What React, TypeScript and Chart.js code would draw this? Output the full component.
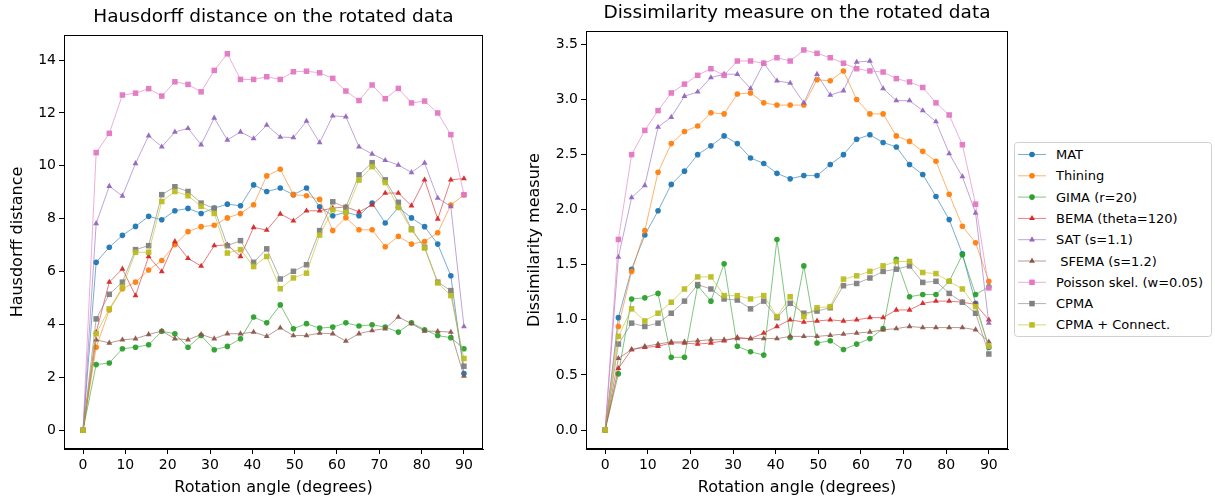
import React, { useEffect, useRef } from "react";
import { Chart, registerables } from "chart.js";

Chart.register(...registerables);

// ---------- data ----------
const angles = [0, 3.1, 6.2, 9.3, 12.4, 15.5, 18.6, 21.7, 24.8, 27.9, 31.0, 34.1, 37.2, 40.3, 43.4, 46.6, 49.7, 52.8, 55.9, 59.0, 62.1, 65.2, 68.3, 71.4, 74.5, 77.6, 80.7, 83.8, 86.9, 90.0];

const seriesNames = ["MAT", "Thining", "GIMA (r=20)", "BEMA (theta=120)", "SAT (s=1.1)", " SFEMA (s=1.2)", "Poisson skel. (w=0.05)", "CPMA", "CPMA + Connect."];
const seriesColors = ["#1f77b4", "#ff7f0e", "#2ca02c", "#d62728", "#9467bd", "#8c564b", "#e377c2", "#7f7f7f", "#bcbd22"];
const seriesMarkers = ["circle", "circle", "circle", "triangle", "triangle", "triangle", "rect", "rect", "rect"];

// Hausdorff distance
const hausMAT = [0, 6.35, 6.92, 7.37, 7.71, 8.09, 7.96, 8.30, 8.39, 8.20, 8.40, 8.55, 8.49, 9.28, 9.03, 9.16, 8.91, 9.16, 8.45, 8.11, 8.25, 8.11, 8.59, 7.84, 8.43, 8.03, 7.70, 7.04, 5.84, 2.14];
const hausThining = [0, 3.14, 4.55, 5.35, 5.60, 6.06, 6.42, 7.02, 7.51, 7.70, 7.75, 8.03, 8.20, 8.53, 9.62, 9.87, 8.91, 8.87, 8.73, 7.55, 8.04, 7.58, 7.58, 6.94, 7.33, 7.04, 7.14, 7.47, 8.52, 8.90];
const hausGIMA = [0, 2.48, 2.54, 3.08, 3.14, 3.23, 3.74, 3.65, 3.14, 3.58, 3.04, 3.17, 3.46, 4.28, 4.06, 4.74, 3.84, 4.03, 3.86, 3.90, 4.06, 3.94, 3.99, 3.90, 3.71, 4.06, 3.80, 3.58, 3.50, 3.08];
const hausBEMA = [0, 3.70, 5.60, 6.10, 5.09, 6.57, 6.00, 7.14, 6.50, 6.21, 6.98, 7.01, 6.57, 7.67, 7.57, 8.18, 7.92, 8.30, 8.30, 8.40, 8.45, 8.26, 8.52, 8.97, 8.97, 8.49, 9.47, 7.99, 9.47, 9.52];
const hausSAT = [0, 7.82, 9.23, 8.86, 10.09, 11.14, 10.72, 11.28, 11.42, 10.80, 11.81, 10.98, 11.28, 11.03, 11.54, 11.09, 11.07, 11.69, 10.88, 11.89, 11.86, 10.72, 10.45, 10.21, 10.03, 9.75, 10.11, 8.78, 8.46, 3.92];
const hausSFEMA = [0, 3.42, 3.30, 3.42, 3.46, 3.62, 3.75, 3.46, 3.42, 3.62, 3.46, 3.65, 3.65, 3.71, 3.55, 3.87, 3.58, 3.58, 3.67, 3.65, 3.37, 3.65, 3.77, 3.84, 4.28, 4.03, 3.75, 3.74, 3.71, 2.05];
const hausPoisson = [0, 10.50, 11.23, 12.68, 12.75, 12.92, 12.64, 13.18, 13.08, 12.80, 13.61, 14.24, 13.27, 13.27, 13.37, 13.27, 13.56, 13.58, 13.52, 13.31, 12.83, 12.47, 13.06, 12.54, 12.93, 12.38, 12.45, 12.00, 11.18, 8.91];
const hausCPMA = [0, 4.21, 5.14, 5.60, 6.83, 6.98, 8.91, 9.21, 9.03, 8.59, 8.39, 6.98, 7.17, 6.35, 6.86, 5.72, 6.01, 6.26, 7.55, 8.64, 8.43, 9.66, 10.12, 9.47, 8.62, 7.61, 6.92, 5.60, 5.28, 2.42];
const hausCPMAConnect = [0, 3.65, 4.59, 5.40, 6.73, 6.73, 8.65, 9.03, 8.87, 8.47, 8.20, 6.70, 6.83, 6.19, 6.57, 5.35, 5.76, 5.94, 7.38, 8.34, 8.24, 9.46, 9.97, 9.37, 8.43, 7.58, 6.89, 5.57, 5.09, 2.71];

// Dissimilarity measure
const dissMAT = [0, 1.02, 1.46, 1.77, 1.99, 2.23, 2.35, 2.50, 2.58, 2.67, 2.60, 2.47, 2.42, 2.33, 2.28, 2.31, 2.31, 2.41, 2.50, 2.64, 2.68, 2.61, 2.57, 2.41, 2.32, 2.12, 1.91, 1.60, 1.15, 0.75];
const dissThining = [0, 0.94, 1.44, 1.81, 2.34, 2.60, 2.71, 2.76, 2.88, 2.87, 3.05, 3.06, 2.97, 2.95, 2.95, 2.95, 3.18, 3.17, 3.26, 3.00, 2.87, 2.87, 2.67, 2.62, 2.53, 2.44, 2.14, 1.85, 1.70, 1.35];
const dissGIMA = [0, 0.51, 1.19, 1.20, 1.24, 0.66, 0.66, 1.31, 1.17, 1.51, 0.76, 0.71, 0.68, 1.73, 0.84, 1.49, 0.79, 0.81, 0.73, 0.78, 0.83, 0.92, 1.55, 1.21, 1.23, 1.23, 1.35, 1.59, 1.23, 1.30];
const dissBEMA = [0, 0.56, 0.73, 0.75, 0.76, 0.79, 0.79, 0.78, 0.79, 0.81, 0.84, 0.83, 0.88, 0.94, 1.00, 0.98, 0.99, 1.00, 0.99, 1.00, 1.02, 1.02, 1.09, 1.09, 1.15, 1.17, 1.17, 1.16, 1.14, 1.00];
const dissSAT = [0, 1.57, 2.11, 2.22, 2.75, 2.84, 3.03, 3.07, 3.20, 3.23, 3.23, 3.10, 3.33, 3.17, 3.15, 2.97, 3.23, 3.04, 3.08, 3.34, 3.35, 3.10, 2.99, 2.99, 2.90, 2.80, 2.51, 2.30, 1.97, 0.97];
const dissSFEMA = [0, 0.65, 0.73, 0.76, 0.78, 0.80, 0.80, 0.81, 0.82, 0.82, 0.83, 0.83, 0.83, 0.83, 0.85, 0.85, 0.85, 0.86, 0.87, 0.88, 0.89, 0.91, 0.92, 0.94, 0.93, 0.93, 0.93, 0.93, 0.91, 0.80];
const dissPoisson = [0, 1.73, 2.50, 2.72, 2.90, 3.06, 3.14, 3.22, 3.28, 3.22, 3.35, 3.35, 3.33, 3.38, 3.35, 3.45, 3.42, 3.38, 3.33, 3.28, 3.26, 3.25, 3.19, 3.16, 3.11, 2.97, 2.86, 2.59, 2.05, 1.29];
const dissCPMA = [0, 0.78, 0.97, 0.94, 0.97, 1.06, 1.17, 1.32, 1.28, 1.19, 1.18, 1.10, 1.17, 1.02, 1.15, 1.06, 1.08, 1.11, 1.31, 1.33, 1.38, 1.44, 1.46, 1.49, 1.34, 1.35, 1.24, 1.16, 1.06, 0.69];
const dissCPMAConnect = [0, 0.85, 1.10, 0.99, 1.06, 1.16, 1.28, 1.39, 1.39, 1.22, 1.22, 1.19, 1.22, 1.03, 1.21, 1.03, 1.11, 1.12, 1.37, 1.40, 1.44, 1.49, 1.53, 1.53, 1.43, 1.42, 1.35, 1.28, 1.12, 0.76];

const hausValues = [hausMAT, hausThining, hausGIMA, hausBEMA, hausSAT, hausSFEMA, hausPoisson, hausCPMA, hausCPMAConnect];
const dissValues = [dissMAT, dissThining, dissGIMA, dissBEMA, dissSAT, dissSFEMA, dissPoisson, dissCPMA, dissCPMAConnect];

const xTicks = [0, 10, 20, 30, 40, 50, 60, 70, 80, 90];
const hausTicks = [0, 2, 4, 6, 8, 10, 12, 14];
const dissTicks = [0, 0.5, 1.0, 1.5, 2.0, 2.5, 3.0, 3.5];

// ---------- styling ----------
const FONT = "'DejaVu Sans', sans-serif";

function rgba(hex: string, a: number) {
  const n = parseInt(hex.slice(1), 16);
  return `rgba(${(n >> 16) & 255},${(n >> 8) & 255},${n & 255},${a})`;
}

function markerRadius(m: string) {
  if (m === "rect") return 3.9;
  if (m === "triangle") return 3.4;
  return 2.8;
}

const framePlugin = {
  id: "frame",
  afterDraw(chart: any) {
    const { ctx, chartArea: a } = chart;
    ctx.save();
    ctx.strokeStyle = "#000";
    ctx.lineWidth = 1;
    ctx.strokeRect(Math.round(a.left) + 0.5, Math.round(a.top) + 0.5, Math.round(a.right - a.left) - 1, Math.round(a.bottom - a.top) - 1);
    ctx.restore();
  },
};

type PanelProps = {
  left: number;
  width: number;
  values: number[][];
  title: string;
  titlePadTop: number;
  titlePadBottom: number;
  yTitle: string;
  yTitlePad: number;
  yAxisWidth: number;
  yMin: number;
  yMax: number;
  yTicks: number[];
  yDecimals: number;
  padRight: number;
};

function Panel(p: PanelProps) {
  const ref = useRef<HTMLCanvasElement | null>(null);
  useEffect(() => {
    if (!ref.current) return;
    const datasets = p.values.map((vals, i) => ({
      label: seriesNames[i],
      data: angles.map((a, k) => ({ x: a, y: vals[k] })),
      borderColor: rgba(seriesColors[i], 0.6),
      backgroundColor: seriesColors[i],
      borderWidth: 1,
      tension: 0,
      pointStyle: seriesMarkers[i],
      pointRadius: markerRadius(seriesMarkers[i]),
      pointBackgroundColor: rgba(seriesColors[i], 0.95),
      pointBorderColor: rgba(seriesColors[i], 0.95),
      pointBorderWidth: 0,
      order: seriesNames.length - i,
    }));
    const tickFont = { family: FONT, size: 14 };
    const gridOpts = { drawOnChartArea: false, color: "#000", tickLength: 5, tickWidth: 1 };
    const chart = new Chart(ref.current, {
      type: "line",
      data: { datasets },
      plugins: [framePlugin],
      options: {
        responsive: false,
        animation: false,
        devicePixelRatio: 1,
        events: [],
        layout: { padding: { left: 0, right: p.padRight, top: 0, bottom: 0 } },
        plugins: {
          legend: { display: false },
          tooltip: { enabled: false },
          title: {
            display: true,
            fullSize: false,
            text: p.title,
            color: "#000",
            font: { family: FONT, size: 18.5, weight: "normal" },
            padding: { top: p.titlePadTop, bottom: p.titlePadBottom },
          },
        },
        scales: {
          x: {
            type: "linear",
            min: -4.5,
            max: 94.5,
            afterBuildTicks: (s: any) => {
              s.ticks = xTicks.map((v) => ({ value: v }));
            },
            afterFit: (s: any) => {
              s.height = 53;
            },
            ticks: { font: tickFont, color: "#000", padding: 3, maxRotation: 0, autoSkip: false, callback: (v: any) => String(v) },
            grid: gridOpts,
            border: { display: true, color: "#000" },
            title: { display: true, text: "Rotation angle (degrees)", color: "#000", font: { family: FONT, size: 16 }, padding: { top: 0, bottom: 4.4 } },
          },
          y: {
            type: "linear",
            min: p.yMin,
            max: p.yMax,
            afterBuildTicks: (s: any) => {
              s.ticks = p.yTicks.map((v) => ({ value: v }));
            },
            afterFit: (s: any) => {
              s.width = p.yAxisWidth;
            },
            ticks: { font: tickFont, color: "#000", padding: 3, autoSkip: false, callback: (v: any) => Number(v).toFixed(p.yDecimals) },
            grid: gridOpts,
            border: { display: true, color: "#000" },
            title: { display: true, text: p.yTitle, color: "#000", font: { family: FONT, size: 16 }, padding: { top: p.yTitlePad, bottom: 0 } },
          },
        },
      } as any,
    });
    return () => chart.destroy();
  }, []);
  return (
    <canvas
      ref={ref}
      width={p.width}
      height={502}
      style={{ position: "absolute", left: p.left, top: 0, width: p.width, height: 502 }}
    />
  );
}

function LegendMarker({ kind, color, cx, cy }: { kind: string; color: string; cx: number; cy: number }) {
  if (kind === "rect") {
    const s = 5.5;
    return <rect x={cx - s / 2} y={cy - s / 2} width={s} height={s} fill={color} />;
  }
  if (kind === "triangle") {
    const r = 3.4;
    const pts = [
      [cx, cy - r],
      [cx + r * Math.sin((2 * Math.PI) / 3), cy - r * Math.cos((2 * Math.PI) / 3)],
      [cx + r * Math.sin((4 * Math.PI) / 3), cy - r * Math.cos((4 * Math.PI) / 3)],
    ]
      .map((q) => q.join(","))
      .join(" ");
    return <polygon points={pts} fill={color} />;
  }
  return <circle cx={cx} cy={cy} r={2.8} fill={color} />;
}

function Legend() {
  const w = 198;
  const h = 195;
  return (
    <svg width={w} height={h} style={{ position: "absolute", left: 1014, top: 142 }}>
      <rect x={0.5} y={0.5} width={w - 1} height={h - 1} rx={3} ry={3} fill="rgba(255,255,255,0.8)" stroke="#d0d0d0" strokeWidth={1} />
      {seriesNames.map((name, i) => {
        const cy = 12.5 + i * 21.3;
        return (
          <g key={name}>
            <line x1={4} y1={cy} x2={32} y2={cy} stroke={rgba(seriesColors[i], 0.6)} strokeWidth={1} />
            <LegendMarker kind={seriesMarkers[i]} color={seriesColors[i]} cx={18} cy={cy} />
            <text
              x={42}
              y={cy}
              dominantBaseline="central"
              xmlSpace="preserve"
              style={{ whiteSpace: "pre" }}
              fontFamily={FONT}
              fontSize={13}
              fill="#000"
            >
              {name}
            </text>
          </g>
        );
      })}
    </svg>
  );
}

export default function App() {
  return (
    <div style={{ position: "absolute", left: 0, top: 0, width: 1215, height: 502, background: "#fff", overflow: "hidden" }}>
      <Panel
        left={0}
        width={500}
        values={hausValues}
        title="Hausdorff distance on the rotated data"
        titlePadTop={5.9}
        titlePadBottom={6.9}
        yTitle="Hausdorff distance"
        yTitlePad={8.4}
        yAxisWidth={64}
        yMin={-0.712}
        yMax={14.95}
        yTicks={hausTicks}
        yDecimals={0}
        padRight={17}
      />
      <Panel
        left={500}
        width={512}
        values={dissValues}
        title="Dissimilarity measure on the rotated data"
        titlePadTop={1.9}
        titlePadBottom={6.9}
        yTitle="Dissimilarity measure"
        yTitlePad={25.4}
        yAxisWidth={86}
        yMin={-0.1725}
        yMax={3.6225}
        yTicks={dissTicks}
        yDecimals={1}
        padRight={4}
      />
      <Legend />
    </div>
  );
}
